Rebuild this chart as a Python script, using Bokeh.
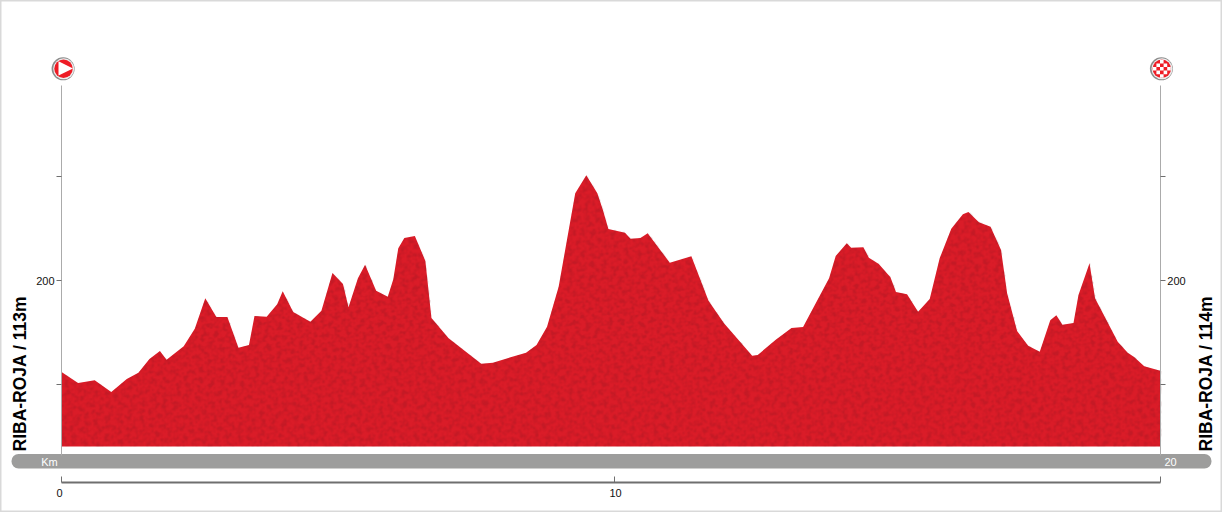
from bokeh.plotting import figure
from bokeh.models import LinearAxis, FixedTicker, Label
from bokeh.embed import file_html
from bokeh.resources import INLINE
import math
import numpy as np

km = [0, .30, .60, .90, 1.18, 1.39, 1.59, 1.78, 1.90, 2.21, 2.41, 2.60, 2.80, 3.00, 3.20, 3.39, 3.49, 3.71, 3.90, 4.00,
      4.19, 4.50, 4.70, 4.90, 5.09, 5.19, 5.36, 5.49, 5.69, 5.90, 6.00, 6.09, 6.20, 6.39, 6.58, 6.69, 7.00, 7.59, 7.80,
      8.40, 8.59, 8.78, 8.99, 9.29, 9.49, 9.69, 9.79, 9.89, 10.19, 10.29, 10.47, 10.60, 11.00, 11.39, 11.70, 11.98,
      12.49, 12.59, 12.91, 13.20, 13.41, 13.88, 14.00, 14.20, 14.28, 14.50, 14.60, 14.78, 14.99, 15.09, 15.29, 15.49,
      15.70, 15.88, 16.09, 16.30, 16.40, 16.59, 16.80, 16.99, 17.10, 17.28, 17.48, 17.69, 17.88, 17.99, 18.10, 18.30,
      18.39, 18.59, 18.69, 19.10, 19.28, 19.39, 19.58, 19.87]
elevation = [112, 101.4, 104.0, 92.8, 105.3, 111.3, 124.5, 132.2, 123.8, 136.7, 153.7, 182.9, 164.9, 164.9, 135.4, 138,
             165.9, 165.2, 177.1, 189.6, 169.7, 160.4, 171, 207.2, 196.6, 174.2, 202.1, 215.2, 190.2, 184.4, 201.2, 231,
             240.9, 242.8, 218.8, 163.9, 144.4, 120, 121, 130.6, 138, 155.6, 194, 283.8, 301.2, 283.8, 267.8, 249.5, 246,
             240.2, 240.9, 245.4, 217.1, 223.3, 180.6, 158.8, 127.7, 128.4, 142.8, 154.3, 155.3, 202.1, 223.6, 235.8,
             231.5, 231.9, 221.9, 215.9, 203.1, 188.9, 186.7, 170, 182.2, 221.3, 249.8, 263.7, 265.9, 256, 251.7, 229.3,
             187.7, 151.4, 137.3, 131.5, 161.7, 166.5, 157.5, 159.1, 186.1, 216.5, 182.9, 141.2, 130.6, 126.7, 117.5, 113.3]
elevation_ticks = [100, 200, 300]
elevation_labels = {100: "", 200: "200", 300: ""}
km_ticks = [0, 10, 19.87]
km_labels = {0: "", 10: "", 19.87: ""}
base_elevation = 40.4
start_label = "RIBA-ROJA / 113m"
finish_label = "RIBA-ROJA / 114m"

W, H = 1222, 512
PX_KM = 55.3
PX_M = 1.04

def X(px):
    return (px - 61) / PX_KM

def Y(py):
    return 200 + (280 - py) / PX_M

FONT = "Liberation Sans"
p = figure(width=W, height=H, output_backend="svg", toolbar_location=None,
           x_range=(X(0), X(W)), y_range=(Y(H), Y(0)),
           min_border=0, min_border_left=0, min_border_right=0, min_border_top=0, min_border_bottom=0,
           x_axis_type=None, y_axis_type=None)
p.grid.visible = False
p.outline_line_color = "#d9d9d9"
p.outline_line_width = 2
p.background_fill_color = "white"
p.border_fill_color = "white"

# profile
p.varea(km, [base_elevation] * len(km), elevation, fill_color="#DA1C28")

# fine mottled paper-like shading inside the profile (decoration only, not data)
nx, ny = 1100, 272
xx, yy = np.meshgrid(np.arange(nx), np.arange(ny))
noise = np.zeros((ny, nx))
for i in range(40):
    ang = i * 2.39996
    wl = 3.1 + 0.23 * i
    noise += np.sin(2 * np.pi * (xx * np.cos(ang) + yy * np.sin(ang)) / wl + i * 1.7)
shade = np.clip(0.05 + noise * 0.018, 0, 0.2)
x_km = X(61) + xx / PX_KM
y_m = base_elevation + yy * (Y(174) - base_elevation) / ny
shade[y_m > np.interp(x_km, km, elevation) - 1.0] = 0
rgba = np.zeros((ny, nx), dtype=np.uint32)
view = rgba.view(np.uint8).reshape((ny, nx, 4))
view[..., 0] = 110
view[..., 1] = 20
view[..., 2] = 30
view[..., 3] = (shade * 255).astype(np.uint8)
p.image_rgba(image=[rgba], x=[X(61)], y=[base_elevation], dw=[nx / PX_KM], dh=[Y(174) - base_elevation])

def elev_axis(loc, side):
    a = LinearAxis(fixed_location=loc, ticker=FixedTicker(ticks=elevation_ticks),
                   major_label_overrides=elevation_labels, bounds=(Y(455), Y(85)))
    a.axis_line_color = "#ababab"
    a.axis_line_width = 1
    a.major_tick_line_color = "#6f6f6f"
    a.major_tick_out = 5
    a.major_tick_in = 0
    a.minor_tick_out = 0
    a.minor_tick_in = 0
    a.major_label_text_font = FONT
    a.major_label_text_font_size = "11px"
    a.major_label_text_color = "#111111"
    a.major_label_standoff = 2
    p.add_layout(a, side)

elev_axis(0, "left")
elev_axis(km[-1], "right")

bottom = LinearAxis(fixed_location=Y(482), ticker=FixedTicker(ticks=km_ticks),
                    major_label_overrides=km_labels, bounds=(0, km[-1]))
bottom.axis_line_color = "#6f6f6f"
bottom.axis_line_width = 2
bottom.major_tick_line_color = "#6f6f6f"
bottom.major_tick_line_width = 1
bottom.major_tick_in = 6
bottom.major_tick_out = 0
bottom.minor_tick_in = 0
bottom.minor_tick_out = 0
p.add_layout(bottom, "below")

# km pill
p.quad(left=[X(11)], right=[X(1211)], top=[Y(453.5)], bottom=[Y(468)], fill_color="#9d9d9c",
       line_color=None, border_radius=7)

def lab(px, py, text, color="#000000", size="11px", style="normal", angle=0, align="center"):
    p.add_layout(Label(x=X(px), y=Y(py), text=text, text_color=color, text_font=FONT, text_font_size=size,
                       text_font_style=style, angle=angle, text_align=align, text_baseline="middle"))

lab(49, 461, "Km", color="#ffffff")
lab(1170, 461, "20", color="#ffffff")
lab(59, 492, "0", color="#111111")
lab(615, 492, "10", color="#111111")
lab(19.5, 451, start_label, size="17.5px", style="bold", angle=math.pi / 2, align="left")
lab(1205.5, 451, finish_label, size="17.5px", style="bold", angle=math.pi / 2, align="left")

# start / finish badges
def badge(cx, cy):
    p.scatter([X(cx - 0.4)], [Y(cy)], size=23, marker="circle", fill_color="#8c8c8c", line_color=None)
    p.scatter([X(cx + 0.2)], [Y(cy)], size=21, marker="circle", fill_color="#ededed", line_color=None)
    p.scatter([X(cx)], [Y(cy)], size=18.5, marker="circle", fill_color="#EE1C25", line_color=None)

badge(63, 68.3)
p.patch([X(58), X(72.5), X(58)], [Y(60.7), Y(68), Y(75)], fill_color="#ffffff", line_color=None)

badge(1161.3, 68.3)
cx, cy, s = 1161.3, 68.3, 3.6
for i in range(-2, 3):
    for j in range(-2, 3):
        if (i + j) % 2 == 0 and math.hypot(i, j) < 2.3:
            p.quad(left=[X(cx + (i - .5) * s)], right=[X(cx + (i + .5) * s)],
                   top=[Y(cy + (j - .5) * s)], bottom=[Y(cy + (j + .5) * s)],
                   fill_color="#ffffff", line_color=None)

open("out.html", "w").write(file_html(p, INLINE))
